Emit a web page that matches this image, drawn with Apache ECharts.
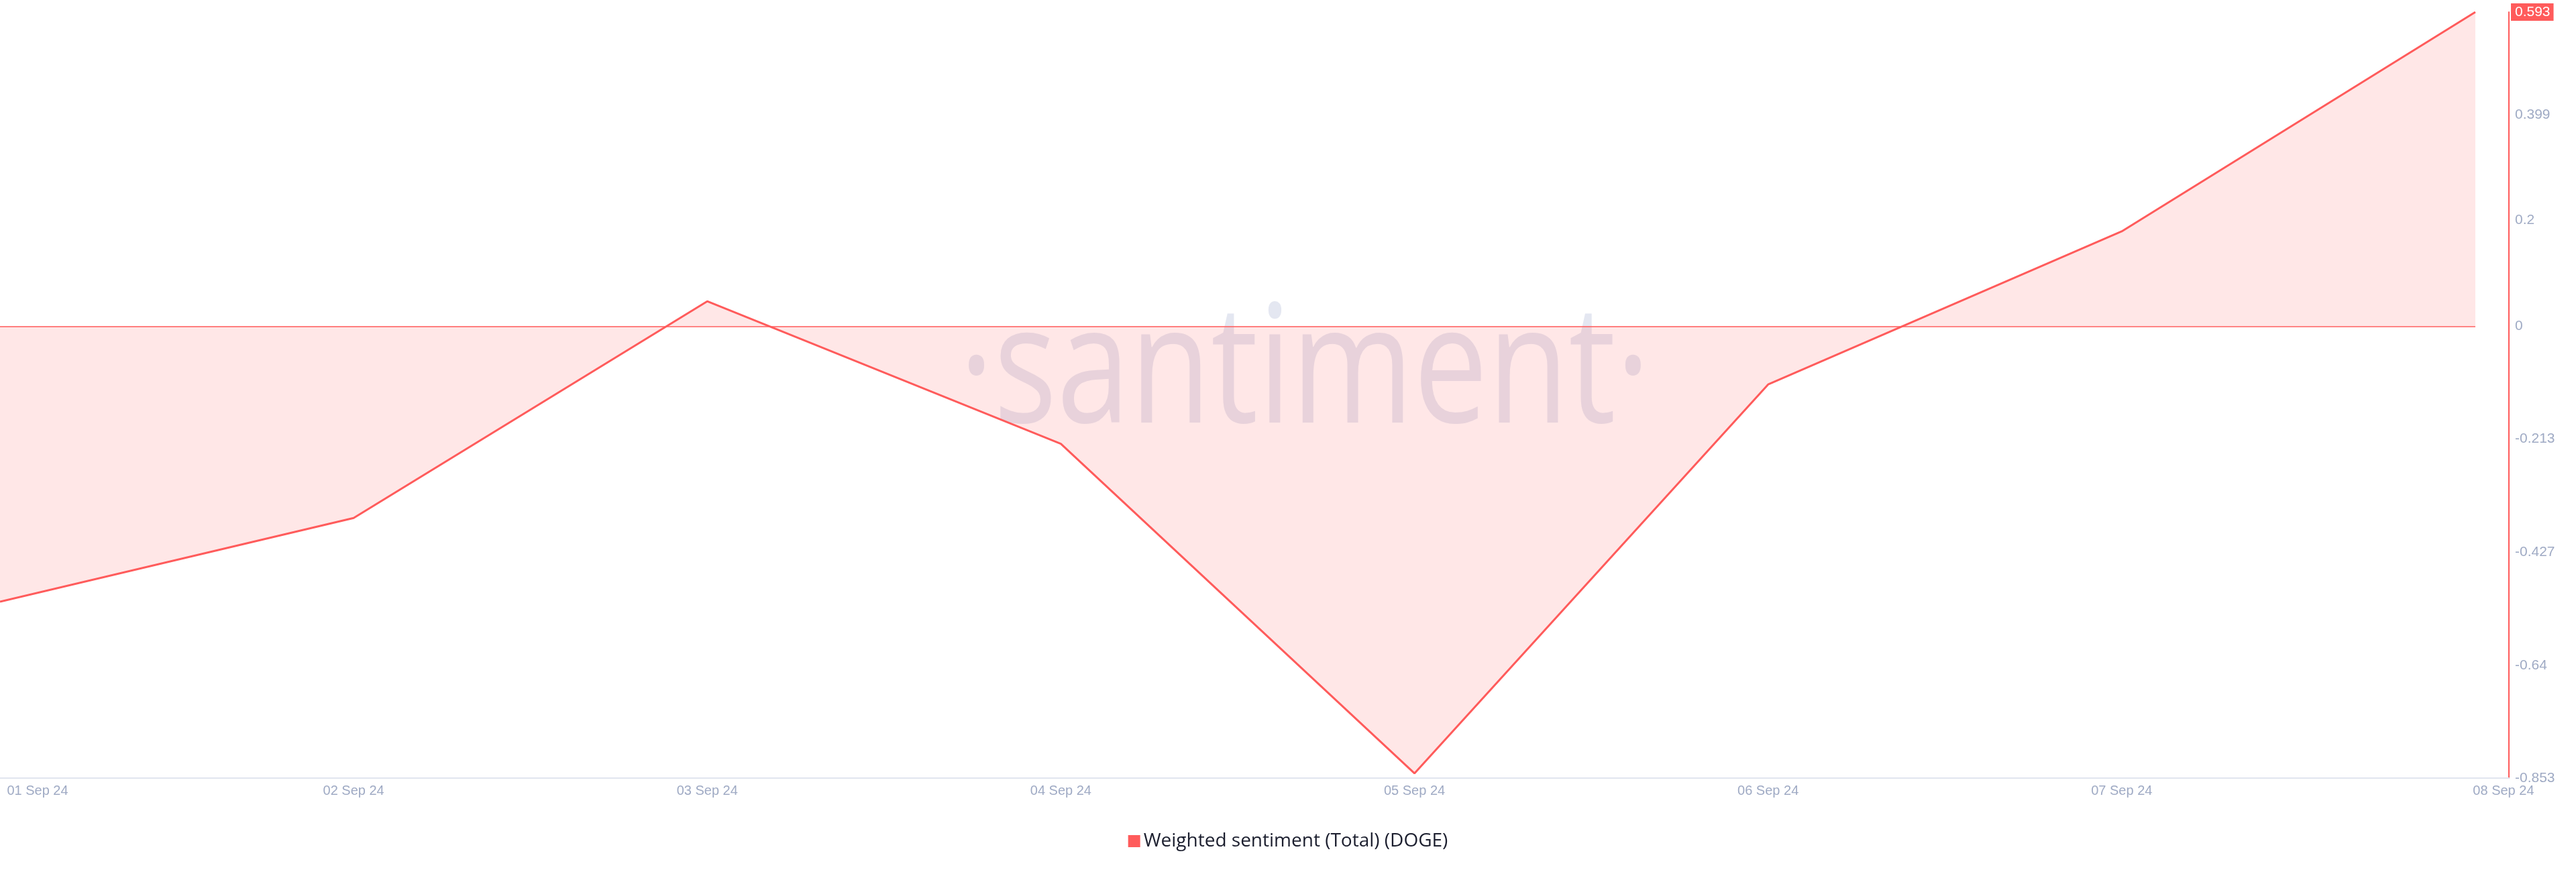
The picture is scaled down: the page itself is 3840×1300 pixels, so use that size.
<!DOCTYPE html>
<html>
<head>
<meta charset="utf-8">
<script src="https://cdn.jsdelivr.net/npm/echarts@6/dist/echarts.min.js"></script>
<style>
html,body{margin:0;padding:0;background:#fff;}
#chart{width:3840px;height:1300px;}
</style>
</head>
<body>
<div id="chart"></div>
<script>
// ---- data ----
const dateLabels = ['01 Sep 24','02 Sep 24','03 Sep 24','04 Sep 24','05 Sep 24','06 Sep 24','07 Sep 24','08 Sep 24'];
const dayIndex = [0,1,2,3,4,5,6,7];
const sentimentValues = [-0.520,-0.362,0.047,-0.222,-0.844,-0.110,0.179,0.593];
const yTickValues = [-0.853,-0.64,-0.427,-0.213,0,0.2,0.399,0.593];
const seriesName = 'Weighted sentiment (Total) (DOGE)';

const RED = '#ff5b5b';
const LABEL = '#9faac4';
const FONT = 'Liberation Sans, Arial, sans-serif';
const lastValue = sentimentValues[sentimentValues.length - 1];

const chart = echarts.init(document.getElementById('chart'));
chart.setOption({
  animation: false,
  backgroundColor: '#ffffff',
  grid: { left: 0, right: 100, top: 18, bottom: 140, containLabel: false },
  graphic: [{
    type: 'text',
    z: 0,
    silent: true,
    x: 1945,
    y: 560,
    scaleX: 0.8,
    style: {
      text: '·santiment·',
      font: '246px "Open Sans"',
      fill: '#e4e7f1',
      textAlign: 'center',
      textVerticalAlign: 'middle'
    }
  }],
  legend: {
    left: 'center',
    top: 1235,
    icon: 'rect',
    itemWidth: 18,
    itemHeight: 18,
    itemGap: 10,
    textStyle: { fontFamily: '"Open Sans", sans-serif', fontSize: 28, color: '#1b1e2e' },
    data: [seriesName]
  },
  xAxis: {
    type: 'value',
    min: 0,
    max: 7.095,
    splitLine: { show: false },
    axisTick: { show: false },
    axisLine: { show: true, onZero: false, lineStyle: { color: '#e1e5ef', width: 2 } },
    axisLabel: {
      customValues: dayIndex,
      margin: 9,
      color: LABEL,
      fontFamily: FONT,
      fontSize: 20,
      formatter: function (v) {
        const i = Math.round(v);
        const t = dateLabels[i];
        if (i === 0) return '{first|' + t + '}';
        if (i === dateLabels.length - 1) return '{last|' + t + '}';
        return t;
      },
      rich: {
        first: { padding: [0, 0, 0, 112], color: LABEL, fontSize: 20, fontFamily: FONT },
        last: { padding: [0, 0, 0, 84], color: LABEL, fontSize: 20, fontFamily: FONT }
      }
    }
  },
  yAxis: {
    type: 'value',
    position: 'right',
    min: yTickValues[0],
    max: yTickValues[yTickValues.length - 1],
    splitLine: { show: false },
    axisTick: { show: false },
    axisLine: { show: true, onZero: false, lineStyle: { color: RED, width: 2 } },
    axisLabel: {
      customValues: yTickValues,
      margin: 3,
      formatter: function (v) {
        if (Math.abs(v - lastValue) < 1e-9) return '{hl|' + v + '}';
        return '{n|' + v + '}';
      },
      rich: {
        n: { color: LABEL, fontSize: 21, fontFamily: FONT, padding: [3, 5, 3, 6] },
        hl: { color: '#ffffff', fontSize: 21, fontFamily: FONT, padding: [3, 5, 2, 6], backgroundColor: RED }
      }
    }
  },
  series: [{
    name: seriesName,
    type: 'line',
    z: 3,
    data: dayIndex.map((d, i) => [d, sentimentValues[i]]),
    showSymbol: false,
    symbol: 'none',
    color: RED,
    lineStyle: { color: RED, width: 3 },
    areaStyle: { color: 'rgba(255,91,91,0.15)', opacity: 1, origin: 0 },
    markLine: {
      silent: true,
      symbol: 'none',
      label: { show: false },
      lineStyle: { color: RED, width: 1.5, type: 'solid' },
      data: [[{ coord: [dayIndex[0], 0] }, { coord: [dayIndex[dayIndex.length - 1], 0] }]]
    }
  }]
});
</script>
</body>
</html>
